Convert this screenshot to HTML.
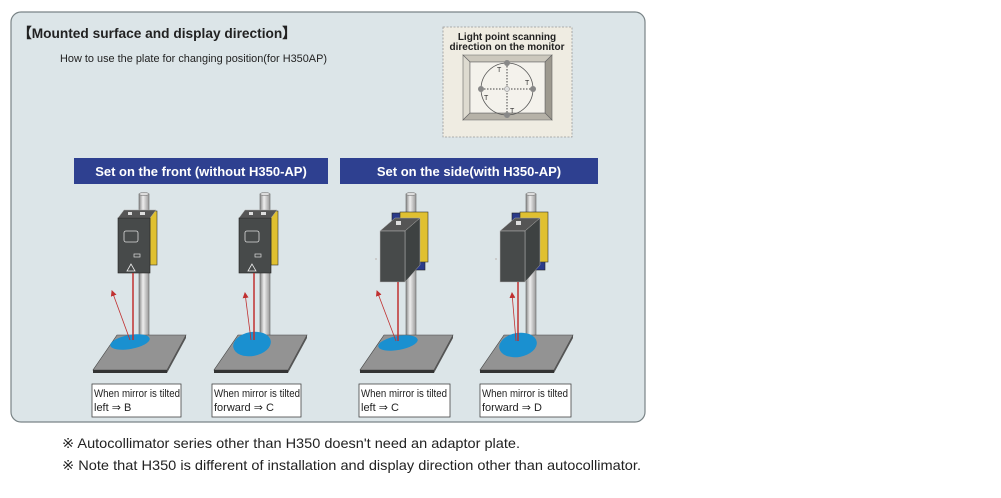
<!DOCTYPE html>
<html><head><meta charset="utf-8"><style>
html,body{margin:0;padding:0;background:#fff;width:1001px;height:498px;overflow:hidden}
text{font-family:"Liberation Sans",sans-serif}
</style></head><body>
<svg width="1001" height="498" viewBox="0 0 1001 498" xmlns="http://www.w3.org/2000/svg">
<defs>
<marker id="ah" markerWidth="6" markerHeight="6" refX="5" refY="3" orient="auto" markerUnits="userSpaceOnUse"><path d="M0,0 L6,3 L0,6 z" fill="#c03030"/></marker>
<linearGradient id="post" x1="0" x2="1"><stop offset="0" stop-color="#888"/><stop offset="0.4" stop-color="#eee"/><stop offset="1" stop-color="#999"/></linearGradient>
<g id="base">
<rect x="139" y="194" width="10" height="150" fill="url(#post)" stroke="#666" stroke-width="0.6"/>
<ellipse cx="144" cy="194" rx="5" ry="1.5" fill="#ddd" stroke="#666" stroke-width="0.5"/>
<polygon points="117,335 186,335 167,370 93,370" fill="#939393" stroke="#444" stroke-width="0.6"/>
<polygon points="93,370 167,370 167,373 93,373" fill="#333"/>
<polygon points="167,370 186,335 186,338 167,373" fill="#555"/>
</g>
<g id="cam1">
<rect x="150" y="211" width="7" height="54" fill="#e0c030" stroke="#333" stroke-width="0.6"/>
<polygon points="118,218 124,210 156,210 150,218" fill="#555" stroke="#aaa" stroke-width="0.5"/>
<rect x="118" y="218" width="32" height="55" fill="#474a4a" stroke="#222" stroke-width="0.6"/>
<rect x="124" y="231" width="14" height="11" rx="2" fill="none" stroke="#ddd" stroke-width="0.8"/>
<rect x="134" y="254" width="6" height="3" fill="none" stroke="#ddd" stroke-width="0.7"/>
<polygon points="131,264 127,271 135,271" fill="none" stroke="#eee" stroke-width="0.8"/>
<rect x="128" y="212" width="4" height="3" fill="#ddd"/><rect x="140" y="212" width="5" height="3" fill="#ddd"/>
</g>
<g id="cam3">
<rect x="392" y="213" width="33" height="57" fill="#2a3a8a" stroke="#222" stroke-width="0.6"/>
<rect x="400" y="212" width="28" height="50" fill="#e0c030" stroke="#333" stroke-width="0.6"/>
<polygon points="380,231 395,218 420,218 405,231" fill="#555" stroke="#aaa" stroke-width="0.5"/>
<polygon points="405,231 420,218 420,265 405,282" fill="#3e4242" stroke="#aaa" stroke-width="0.5"/>
<rect x="380" y="231" width="25" height="51" fill="#474a4a" stroke="#bbb" stroke-width="0.5"/>
<rect x="396" y="221" width="5" height="4" fill="#ddd"/>
<rect x="375" y="258" width="2" height="2" fill="#ccc"/>
</g>
</defs>
<rect x="11" y="12" width="634" height="410" rx="10" fill="#dce5e8" stroke="#7a8487" stroke-width="1.2"/>
<text x="18" y="38" font-size="14" font-weight="bold" fill="#222" textLength="278" lengthAdjust="spacingAndGlyphs">【Mounted surface and display direction】</text>
<text x="60" y="62" font-size="11" fill="#222" textLength="267" lengthAdjust="spacingAndGlyphs">How to use the plate for changing position(for H350AP)</text>
<rect x="443" y="27" width="129" height="110" fill="#efece2" stroke="#999" stroke-width="0.8" stroke-dasharray="2,1.5"/>
<text x="507" y="40" font-size="10" font-weight="bold" text-anchor="middle" fill="#222">Light point scanning</text>
<text x="507" y="50" font-size="10" font-weight="bold" text-anchor="middle" fill="#222">direction on the monitor</text>
<polygon points="463,55 552,55 545,62 470,62" fill="#ccc8bd" stroke="#666" stroke-width="0.6"/>
<polygon points="552,55 552,120 545,113 545,62" fill="#9d998f" stroke="#666" stroke-width="0.6"/>
<polygon points="463,55 470,62 470,113 463,120" fill="#dedbd0" stroke="#666" stroke-width="0.6"/>
<polygon points="463,120 552,120 545,113 470,113" fill="#b6b2a8" stroke="#666" stroke-width="0.6"/>
<rect x="470" y="62" width="75" height="51" fill="#f4f2ec" stroke="#666" stroke-width="0.6"/>
<circle cx="507" cy="89" r="26" fill="none" stroke="#555" stroke-width="0.8"/>
<line x1="481" y1="89" x2="533" y2="89" stroke="#444" stroke-dasharray="1.5,1.5"/>
<line x1="507" y1="63" x2="507" y2="115" stroke="#444" stroke-dasharray="1.5,1.5"/>
<circle cx="507" cy="63" r="3" fill="#888"/><circle cx="507" cy="115" r="3" fill="#888"/>
<circle cx="481" cy="89" r="3" fill="#888"/><circle cx="533" cy="89" r="3" fill="#888"/>
<circle cx="507" cy="89" r="2.5" fill="#ddd" stroke="#777" stroke-width="0.5"/>
<text x="497" y="72" font-size="7" fill="#333">T</text><text x="525" y="85" font-size="7" fill="#333">T</text>
<text x="484" y="100" font-size="7" fill="#333">T</text><text x="510" y="113" font-size="7" fill="#333">T</text>
<rect x="74" y="158" width="254" height="26" fill="#2e4090"/>
<text x="201" y="176" font-size="13" font-weight="bold" fill="#fff" text-anchor="middle">Set on the front (without H350-AP)</text>
<rect x="340" y="158" width="258" height="26" fill="#2e4090"/>
<text x="469" y="176" font-size="13" font-weight="bold" fill="#fff" text-anchor="middle">Set on the side(with H350-AP)</text>
<use href="#base"/>
<ellipse cx="130" cy="342" rx="20" ry="7" transform="rotate(-10 130 342)" fill="#1a90d0"/>
<use href="#cam1"/>
<line x1="133" y1="273" x2="133" y2="340" stroke="#c03030" stroke-width="1.5"/>
<line x1="130" y1="340" x2="112" y2="291" stroke="#c03030" stroke-width="0.8" marker-end="url(#ah)"/>
<use href="#base" transform="translate(121 0)"/>
<ellipse cx="252" cy="344" rx="19" ry="12" transform="rotate(-10 252 344)" fill="#1a90d0"/>
<use href="#cam1" transform="translate(121 0)"/>
<line x1="254" y1="273" x2="254" y2="340" stroke="#c03030" stroke-width="1.5"/>
<line x1="251" y1="340" x2="245" y2="293" stroke="#c03030" stroke-width="0.8" marker-end="url(#ah)"/>
<use href="#base" transform="translate(267 0)"/>
<ellipse cx="398" cy="343" rx="20" ry="7" transform="rotate(-10 398 343)" fill="#1a90d0"/>
<use href="#cam3"/>
<line x1="398" y1="282" x2="398" y2="341" stroke="#c03030" stroke-width="1.5"/>
<line x1="396" y1="341" x2="377" y2="291" stroke="#c03030" stroke-width="0.8" marker-end="url(#ah)"/>
<use href="#base" transform="translate(387 0)"/>
<ellipse cx="518" cy="345" rx="19" ry="12" transform="rotate(-10 518 345)" fill="#1a90d0"/>
<use href="#cam3" transform="translate(120 0)"/>
<line x1="518" y1="282" x2="518" y2="341" stroke="#c03030" stroke-width="1.5"/>
<line x1="516" y1="341" x2="512" y2="293" stroke="#c03030" stroke-width="0.8" marker-end="url(#ah)"/>
<g font-size="11" fill="#222">
<rect x="92" y="384" width="89" height="33" fill="#fff" stroke="#444" stroke-width="0.8"/>
<text x="94" y="397" textLength="86" lengthAdjust="spacingAndGlyphs">When mirror is tilted</text><text x="94" y="411">left ⇒ B</text>
<rect x="212" y="384" width="89" height="33" fill="#fff" stroke="#444" stroke-width="0.8"/>
<text x="214" y="397" textLength="86" lengthAdjust="spacingAndGlyphs">When mirror is tilted</text><text x="214" y="411">forward ⇒ C</text>
<rect x="359" y="384" width="91" height="33" fill="#fff" stroke="#444" stroke-width="0.8"/>
<text x="361" y="397" textLength="86" lengthAdjust="spacingAndGlyphs">When mirror is tilted</text><text x="361" y="411">left ⇒ C</text>
<rect x="480" y="384" width="91" height="33" fill="#fff" stroke="#444" stroke-width="0.8"/>
<text x="482" y="397" textLength="86" lengthAdjust="spacingAndGlyphs">When mirror is tilted</text><text x="482" y="411">forward ⇒ D</text>
</g>
<text x="62" y="448" font-size="14" fill="#222" textLength="458" lengthAdjust="spacingAndGlyphs">※ Autocollimator series other than H350 doesn't need an adaptor plate.</text>
<text x="62" y="470" font-size="14" fill="#222" textLength="579" lengthAdjust="spacingAndGlyphs">※ Note that H350 is different of installation and display direction other than autocollimator.</text>
</svg>
</body></html>
